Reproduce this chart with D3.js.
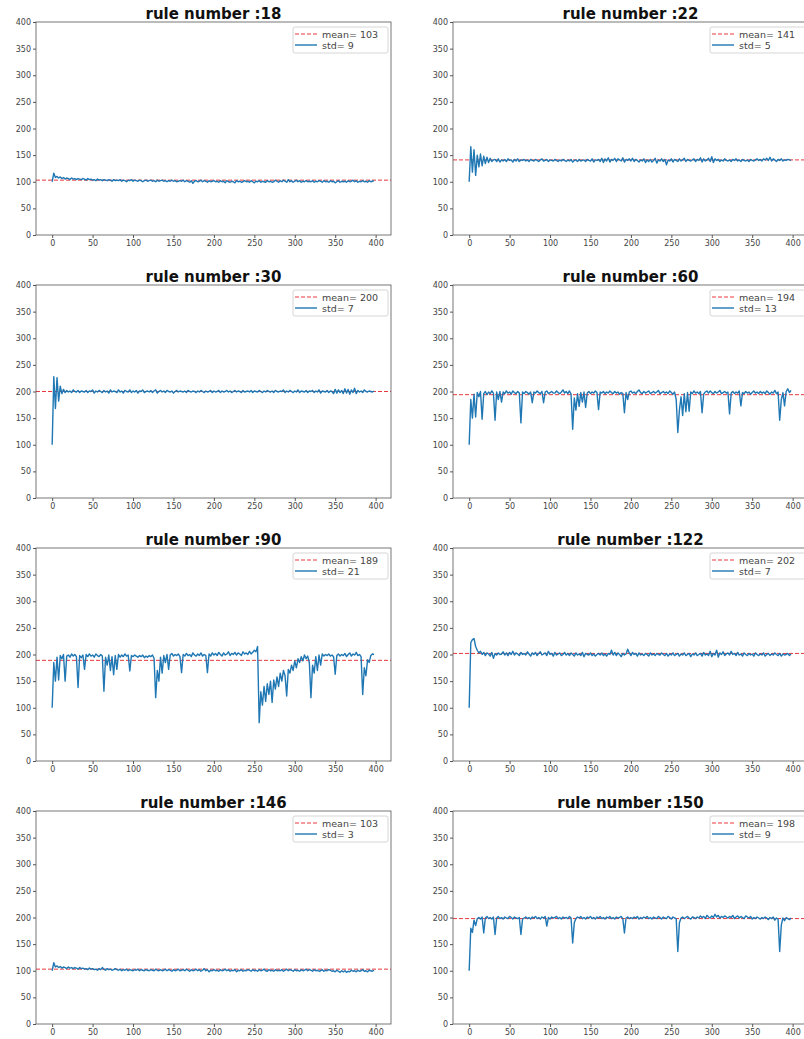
<!DOCTYPE html>
<html>
<head>
<meta charset="utf-8">
<script src="https://cdn.jsdelivr.net/npm/d3@7/dist/d3.min.js"></script>
<style>
body { margin: 0; background: #fff; }
svg { display: block; font-family: "DejaVu Sans", sans-serif; }
</style>
</head>
<body>
<svg id="chart" width="804" height="1039"></svg>
<script>
// one panel per rule, values every 2 steps
const ruleNumbers = [18, 22, 30, 60, 90, 122, 146, 150];
const meanValues = [103, 141, 200, 194, 189, 202, 103, 198];
const stdValues = [9, 5, 7, 13, 21, 7, 3, 9];
const stepSize = 2;
const xTicks = [0, 50, 100, 150, 200, 250, 300, 350, 400];
const yTicks = [0, 50, 100, 150, 200, 250, 300, 350, 400];

const r18 = [
  100,116,108,110,107,109,106,108,105,107,106,104,107,105,106,104,106,105,104,106,
  105,103,106,104,105,103,104,102,105,103,104,102,104,103,102,104,103,101,104,102,
  103,102,104,101,103,102,100,103,102,104,101,103,102,101,103,102,100,102,103,101,
  102,103,101,102,100,103,101,102,103,101,102,100,102,101,103,101,102,100,101,102,
  101,103,100,102,101,99,102,97,101,102,100,101,103,100,102,101,99,102,100,101,
  102,100,101,99,102,100,101,98,102,100,99,101,100,98,102,100,101,99,100,102,
  100,101,99,102,100,98,101,100,102,99,101,100,99,102,100,101,99,100,103,101,
  99,102,100,103,101,99,104,100,102,99,101,103,100,102,99,101,100,102,100,101,
  100,102,99,101,100,102,101,99,102,100,101,99,102,100,101,98,100,102,99,101,
  100,101,99,102,100,101,103,100,102,99,101,100,102,100,101,99,102,100,101,102
];
const r22 = [
  100,166,118,160,112,150,128,152,130,148,134,146,136,144,138,141,142,138,143,137,
  141,139,142,138,143,140,141,137,142,139,143,138,141,140,142,139,141,138,142,140,
  139,142,140,138,141,143,139,140,142,138,141,140,139,142,140,138,141,139,142,140,
  138,141,139,142,137,140,141,138,142,139,140,141,138,142,140,139,143,137,141,140,
  142,138,144,136,143,139,145,137,142,140,144,138,143,141,139,145,137,142,140,143,
  139,144,138,142,140,137,141,139,143,136,141,138,142,137,140,144,135,141,139,143,
  138,142,132,141,139,143,137,142,140,138,143,139,141,144,138,142,140,139,141,143,
  138,142,140,145,137,143,139,141,144,138,147,136,143,140,142,138,141,139,143,140,
  139,141,138,142,140,143,139,141,138,142,140,139,141,138,142,140,139,141,143,140,
  142,139,143,141,144,140,146,139,143,141,138,142,140,143,139,141,140,142,141,140
];
const r30 = [
  100,228,168,226,182,210,196,204,198,202,199,201,198,203,200,199,202,198,201,200,
  199,202,198,201,200,203,197,201,199,202,200,198,202,199,201,197,203,199,201,200,
  198,203,199,201,197,202,200,199,203,198,201,199,202,197,201,200,203,198,200,201,
  199,202,198,201,203,197,200,202,199,201,198,202,200,199,201,197,200,202,199,201,
  200,199,201,198,202,200,199,201,200,198,201,199,202,200,198,201,199,200,202,198,
  201,199,200,202,198,201,199,200,202,199,201,198,200,202,199,201,200,198,202,199,
  200,201,199,202,198,201,200,199,202,200,198,201,199,202,200,199,201,198,202,200,
  199,201,200,203,198,201,199,202,200,198,201,199,203,198,201,200,199,202,198,201,
  200,202,198,201,199,203,197,201,200,199,202,198,201,200,196,204,197,203,198,202,
  196,205,197,204,195,203,198,206,196,202,199,201,198,203,200,199,201,200,199,201
];
const r60 = [
  100,185,150,195,152,198,190,200,148,196,200,194,199,196,201,197,146,199,185,200,
  180,199,196,201,197,199,195,201,198,196,200,197,141,199,196,200,198,195,199,179,
  199,197,201,198,196,200,179,199,201,196,198,200,197,197,201,198,196,199,203,197,
  200,196,201,195,129,188,165,196,172,198,180,199,170,197,200,196,199,197,201,198,
  166,199,197,200,196,199,197,201,198,196,200,197,199,195,198,196,160,198,185,199,
  201,197,199,196,200,203,198,196,200,197,199,201,196,198,200,197,199,202,196,198,
  200,197,199,196,201,198,195,199,185,123,165,190,155,196,162,198,163,199,196,201,
  197,199,196,200,160,195,199,201,197,201,198,196,200,197,199,202,196,198,200,197,
  199,158,197,200,196,199,197,201,173,198,196,200,197,199,195,198,201,197,199,196,
  200,197,199,196,201,198,195,199,197,202,196,199,146,185,198,173,200,205,198,202
];
const r90 = [
  100,185,150,195,152,198,192,200,150,197,199,195,201,197,200,196,138,198,194,199,
  172,200,196,201,197,199,195,201,198,196,200,197,131,195,180,199,170,196,162,198,
  172,200,195,199,196,201,197,199,169,198,196,199,197,195,198,196,199,194,197,195,
  198,196,199,193,119,170,150,195,165,198,185,200,172,199,202,197,200,198,201,196,
  166,200,197,202,198,200,196,203,199,197,201,198,203,197,200,198,166,201,197,203,
  199,202,198,204,200,197,203,199,201,205,198,202,200,204,199,203,201,198,205,201,
  203,200,206,201,204,208,205,215,72,130,105,140,112,145,125,150,110,152,135,158,
  140,165,150,170,160,122,172,165,180,170,188,175,192,185,196,188,199,192,197,185,
  119,180,165,196,170,199,180,201,197,200,198,201,197,199,196,163,198,201,197,200,
  198,202,196,200,203,197,201,199,204,198,200,196,125,175,160,190,185,198,201,200
];
const r122 = [
  100,222,228,230,215,208,203,206,200,204,198,203,201,197,204,193,202,199,203,200,
  201,205,199,203,198,204,200,206,199,203,201,198,204,200,202,199,205,201,197,203,
  200,204,198,202,205,199,201,203,198,206,200,202,197,204,199,201,203,198,200,204,
  199,202,198,203,200,197,203,199,201,198,204,196,202,200,199,203,198,201,197,200,
  202,199,203,198,201,197,202,200,208,199,204,198,203,200,196,202,199,201,210,203,
  198,204,200,202,197,203,199,201,198,202,200,197,203,199,201,198,202,200,199,203,
  200,198,202,197,201,199,203,198,200,202,197,201,199,203,198,200,202,196,201,199,
  203,198,200,202,197,204,199,201,198,206,196,202,199,208,195,203,200,205,198,201,
  203,199,206,200,202,198,204,199,201,197,203,200,198,202,199,201,197,203,200,198,
  201,199,203,197,200,202,198,201,199,203,200,198,202,197,201,199,200,202,198,201
];
const r146 = [
  100,115,107,109,106,108,105,107,106,104,107,105,106,104,106,105,103,106,104,105,
  103,104,102,105,103,104,102,103,101,104,102,106,103,101,104,102,103,101,102,104,
  102,101,103,100,102,101,103,100,102,101,100,102,101,103,100,102,101,100,102,101,
  100,102,101,100,103,101,100,102,100,101,103,100,102,101,99,102,100,101,103,100,
  101,102,100,103,101,99,102,100,101,103,100,102,99,101,104,100,102,98,101,100,
  102,100,101,99,102,100,101,103,100,102,99,101,100,102,98,101,100,102,99,101,
  100,102,101,99,102,100,101,99,102,100,101,103,100,99,102,100,101,99,102,100,
  101,100,102,99,101,103,100,102,101,99,102,100,101,99,102,100,101,103,100,102,
  101,99,102,100,101,99,100,102,99,101,100,102,101,99,100,98,101,99,97,100,
  98,100,97,99,98,101,99,100,98,101,99,100,102,99,100,98,101,100,99,101
];
const r150 = [
  100,180,172,195,185,198,200,197,201,171,199,202,198,200,197,201,168,199,202,198,
  200,197,201,199,198,202,200,197,201,199,198,200,168,197,199,201,198,200,197,201,
  199,202,198,200,197,201,199,202,184,200,197,201,199,200,202,198,200,197,201,199,
  200,198,202,199,152,190,198,201,199,202,198,200,197,201,199,202,198,200,197,201,
  199,202,198,200,197,201,199,202,198,200,197,201,199,200,202,198,171,199,201,198,
  200,198,201,199,202,197,200,198,201,199,202,198,200,197,201,199,198,202,200,197,
  201,199,198,202,200,197,201,199,198,136,190,199,201,198,200,202,199,197,201,200,
  198,201,199,203,200,202,198,204,201,199,203,200,206,201,204,199,202,200,203,201,
  199,202,200,204,198,201,203,199,202,200,198,203,201,199,202,197,200,198,201,199,
  197,200,198,201,199,196,200,198,201,195,199,197,136,186,199,194,200,198,196,199
];
const seriesList = [r18, r22, r30, r60, r90, r122, r146, r150];

const svg = d3.select('#chart');
const colLeft = [36, 453];
const rowTop = [22, 285, 548, 811];
const plotW = 355, plotH = 213;

ruleNumbers.forEach((rule, k) => {
  const col = k % 2, row = Math.floor(k / 2);
  const left = colLeft[col], top = rowTop[row];
  const right = left + plotW, bottom = top + plotH;

  const x = d3.scaleLinear().domain([-20, 419]).range([left, right]);
  const y = d3.scaleLinear().domain([0, 400]).range([bottom, top]);

  const g = svg.append('g');

  // mean line first, it sits behind the data
  g.append('line')
    .attr('x1', left).attr('x2', right)
    .attr('y1', y(meanValues[k])).attr('y2', y(meanValues[k]))
    .attr('stroke', '#e8383d').attr('stroke-width', 1)
    .attr('stroke-dasharray', '4,2');

  const line = d3.line()
    .x((d, i) => x(i * stepSize))
    .y(d => y(d));

  g.append('path')
    .datum(seriesList[k])
    .attr('d', line)
    .attr('fill', 'none')
    .attr('stroke', '#1f77b4')
    .attr('stroke-width', 1.4)
    .attr('stroke-linejoin', 'round');

  const xAxis = d3.axisBottom(x).tickValues(xTicks).tickSize(3).tickSizeOuter(0).tickPadding(2);
  const yAxis = d3.axisLeft(y).tickValues(yTicks).tickSize(3).tickSizeOuter(0).tickPadding(2);

  const gx = g.append('g').attr('transform', `translate(0,${bottom})`).call(xAxis);
  const gy = g.append('g').attr('transform', `translate(${left},0)`).call(yAxis);
  [gx, gy].forEach(a => {
    a.select('.domain').remove();
    a.selectAll('line').attr('stroke', '#555');
    a.selectAll('text').attr('fill', '#444').style('font-size', '8px')
      .style('font-family', '"DejaVu Sans", sans-serif');
  });

  g.append('rect')
    .attr('x', left).attr('y', top)
    .attr('width', plotW).attr('height', plotH)
    .attr('fill', 'none').attr('stroke', '#555').attr('stroke-width', 0.8);

  g.append('text')
    .attr('x', (left + right) / 2).attr('y', top - 3.5)
    .attr('text-anchor', 'middle')
    .style('font-size', '15px').style('font-weight', 'bold')
    .attr('fill', '#111')
    .text('rule number :' + rule);

  // legend box, top right
  const lg = g.append('g').attr('transform', `translate(${right - 98},${top + 5})`);
  lg.append('rect')
    .attr('width', 95).attr('height', 26).attr('rx', 2)
    .attr('fill', '#fff').attr('fill-opacity', 0.8)
    .attr('stroke', '#ccc').attr('stroke-width', 0.8);
  lg.append('line').attr('x1', 2).attr('x2', 24).attr('y1', 7).attr('y2', 7)
    .attr('stroke', '#e8383d').attr('stroke-width', 1).attr('stroke-dasharray', '4,2');
  lg.append('line').attr('x1', 2).attr('x2', 24).attr('y1', 18).attr('y2', 18)
    .attr('stroke', '#1f77b4').attr('stroke-width', 1.4);
  lg.append('text').attr('x', 29).attr('y', 10.5)
    .style('font-size', '9.5px').attr('fill', '#444')
    .text('mean= ' + meanValues[k]);
  lg.append('text').attr('x', 29).attr('y', 21.5)
    .style('font-size', '9.5px').attr('fill', '#444')
    .text('std= ' + stdValues[k]);
});
</script>
</body>
</html>
